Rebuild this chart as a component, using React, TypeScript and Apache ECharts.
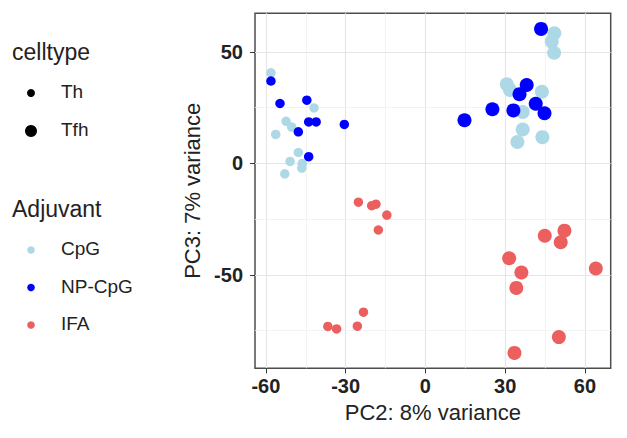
import React, { useRef, useEffect } from 'react';
import * as echarts from 'echarts';

// PCA coordinates [PC2, PC3] per adjuvant and cell type
const cpgTh = [
  [-58.1, 40.7], [-41.9, 24.9], [-52.4, 18.9], [-50.3, 16.3], [-56.3, 13.0],
  [-47.8, 4.9], [-50.9, 0.9], [-46.3, 0.0], [-46.5, -2.1], [-52.9, -4.7],
];
const npCpgTh = [
  [-58.1, 37.0], [-54.7, 26.9], [-44.6, 28.4], [-43.9, 18.6], [-41.1, 18.6],
  [-47.8, 14.2], [-30.5, 17.5], [-43.9, 3.0],
];
const ifaTh = [
  [-25.2, -17.4], [-20.2, -19.0], [-18.6, -18.3], [-14.5, -23.2], [-17.7, -29.9],
  [-23.3, -66.8], [-25.6, -73.1], [-36.7, -73.2], [-33.4, -74.3],
];
const cpgTfh = [
  [48.5, 58.4], [47.5, 54.7], [48.4, 49.7], [30.6, 35.5], [31.8, 33.0],
  [43.8, 32.2], [36.6, 23.1], [36.6, 15.2], [34.6, 9.6], [44.0, 11.8],
];
const npCpgTfh = [
  [43.5, 60.4], [38.1, 35.2], [35.4, 31.1], [41.5, 26.8], [44.8, 22.5],
  [33.1, 23.8], [25.2, 24.3], [14.7, 19.4],
];
const ifaTfh = [
  [44.9, -32.5], [52.3, -30.2], [50.9, -35.4], [31.5, -42.6], [36.1, -49.0],
  [64.1, -47.2], [34.2, -55.9], [50.2, -78.0], [33.5, -85.1],
];

const celltypes = ['Th', 'Tfh'];
const adjuvants = ['CpG', 'NP-CpG', 'IFA'];
const xTicks = [-60, -30, 0, 30, 60];
const yTicks = [-50, 0, 50];
const xMinor = [-45, -15, 15, 45];
const yMinor = [-75, -25, 25];

const colors: Record<string, string> = {
  CpG: '#ADD8E6',
  'NP-CpG': '#0000FF',
  IFA: '#EC5F5F',
};
const sizes: Record<string, number> = { Th: 9.5, Tfh: 14 };
const FONT = '"Liberation Sans", Arial, sans-serif';

const groups = [
  { adj: 'CpG', cell: 'Th', data: cpgTh },
  { adj: 'CpG', cell: 'Tfh', data: cpgTfh },
  { adj: 'NP-CpG', cell: 'Th', data: npCpgTh },
  { adj: 'NP-CpG', cell: 'Tfh', data: npCpgTfh },
  { adj: 'IFA', cell: 'Th', data: ifaTh },
  { adj: 'IFA', cell: 'Tfh', data: ifaTfh },
];

const App = () => {
  const chartRef = useRef(null);

  useEffect(() => {
    document.body.style.margin = '0';
    const myChart = echarts.init(chartRef.current, null, { renderer: 'svg' });

    const gridLines = [
      ...xTicks.map((v) => ({ xAxis: v, lineStyle: { color: '#E6E6E6', width: 1.2 } })),
      ...xMinor.map((v) => ({ xAxis: v, lineStyle: { color: '#F0F0F0', width: 0.8 } })),
      ...yTicks.map((v) => ({ yAxis: v, lineStyle: { color: '#E6E6E6', width: 1.2 } })),
      ...yMinor.map((v) => ({ yAxis: v, lineStyle: { color: '#F0F0F0', width: 0.8 } })),
    ];

    // legend drawn by hand (two titled blocks, like ggplot)
    const legend: any[] = [
      { type: 'text', left: 12, top: 40, style: { text: 'celltype', font: `23px ${FONT}`, fill: '#222' } },
      { type: 'text', left: 12, top: 197, style: { text: 'Adjuvant', font: `23px ${FONT}`, fill: '#222' } },
    ];
    celltypes.forEach((c, i) => {
      const cy = 93 + i * 38;
      legend.push({ type: 'circle', shape: { cx: 31, cy, r: c === 'Th' ? 4 : 6 }, style: { fill: '#000' } });
      legend.push({ type: 'text', left: 61, top: cy - 11, style: { text: c, font: `19px ${FONT}`, fill: '#222' } });
    });
    adjuvants.forEach((a, i) => {
      const cy = 250 + i * 37.5;
      legend.push({ type: 'circle', shape: { cx: 31, cy, r: 3.8 }, style: { fill: colors[a] } });
      legend.push({ type: 'text', left: 61, top: cy - 11, style: { text: a, font: `19px ${FONT}`, fill: '#222' } });
    });

    const option = {
      animation: false,
      grid: {
        left: 255,
        right: 16.3,
        top: 13.3,
        bottom: 69.7,
        show: true,
        borderColor: '#4d4d4d',
        borderWidth: 1.5,
      },
      xAxis: {
        type: 'value',
        min: -64.1,
        max: 69.7,
        splitLine: { show: false },
        axisLine: { show: false, onZero: false },
        axisTick: { show: true, length: 5, lineStyle: { color: '#333' }, customValues: xTicks },
        axisLabel: {
          customValues: xTicks,
          margin: 8,
          color: '#222',
          fontWeight: 'bold',
          fontSize: 20,
          fontFamily: FONT,
        },
        name: 'PC2: 8% variance',
        nameLocation: 'middle',
        nameGap: 32,
        nameTextStyle: { color: '#222', fontSize: 22, fontFamily: FONT },
      },
      yAxis: {
        type: 'value',
        min: -92,
        max: 67.4,
        splitLine: { show: false },
        axisLine: { show: false, onZero: false },
        axisTick: { show: true, length: 5, lineStyle: { color: '#333' }, customValues: yTicks },
        axisLabel: {
          customValues: yTicks,
          margin: 12,
          color: '#222',
          fontWeight: 'bold',
          fontSize: 20,
          fontFamily: FONT,
        },
        name: 'PC3: 7% variance',
        nameLocation: 'middle',
        nameGap: 47,
        nameTextStyle: { color: '#222', fontSize: 22, fontFamily: FONT },
      },
      graphic: legend,
      series: [
        {
          type: 'scatter',
          data: [[0, 0]],
          symbolSize: 0,
          silent: true,
          z: 0,
          markLine: {
            silent: true,
            z: 0,
            symbol: ['none', 'none'],
            label: { show: false },
            lineStyle: { type: 'solid' },
            data: gridLines,
          },
        },
        ...groups.map((g) => ({
          type: 'scatter',
          name: `${g.adj} ${g.cell}`,
          data: g.data,
          symbolSize: sizes[g.cell],
          itemStyle: { color: colors[g.adj], opacity: 1 },
          z: 3,
        })),
      ],
    };

    myChart.setOption(option);

    return () => {
      myChart.dispose();
    };
  }, []);

  return <div ref={chartRef} style={{ width: '627px', height: '438px' }} />;
};

export default App;
